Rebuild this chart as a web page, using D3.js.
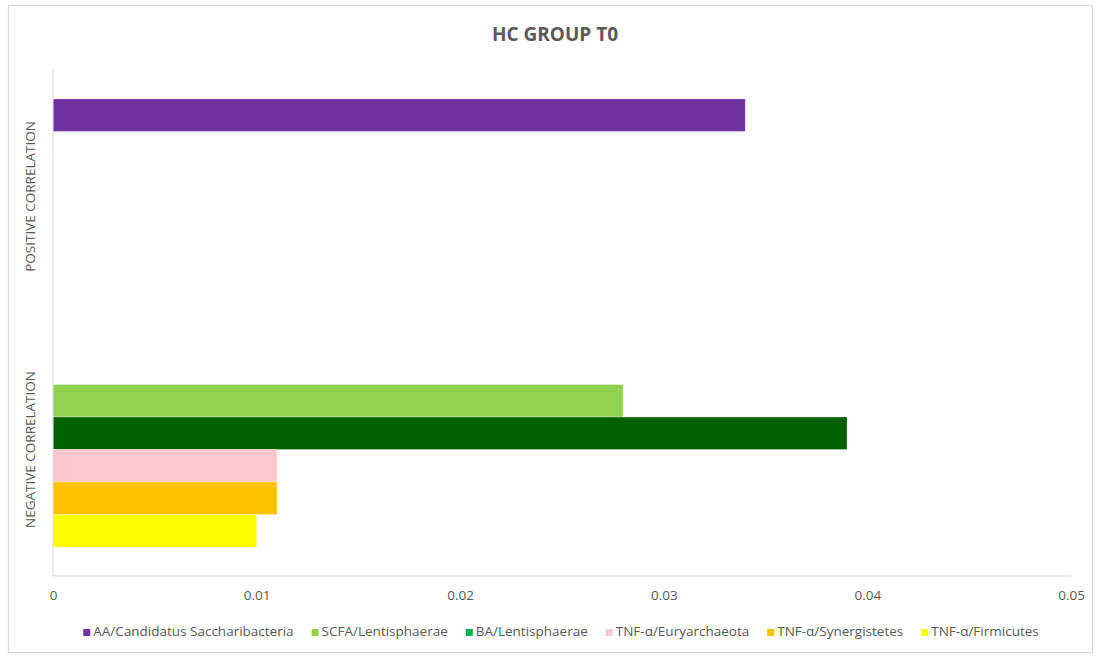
<!DOCTYPE html>
<html><head><meta charset="utf-8">
<script src="https://cdn.jsdelivr.net/npm/d3@7"></script>
<style>body{margin:0;background:#fff;} svg{display:block;font-family:"Open Sans",sans-serif;}</style>
</head><body>
<svg id="chart" width="1098" height="657"></svg>
<script>
const title = "HC GROUP T0";
const categories = ["POSITIVE CORRELATION", "NEGATIVE CORRELATION"];
const seriesNames = ["AA/Candidatus Saccharibacteria", "SCFA/Lentisphaerae", "BA/Lentisphaerae", "TNF-α/Euryarchaeota", "TNF-α/Synergistetes", "TNF-α/Firmicutes"];
// values per series: [positive, negative]; null = no bar
const AA = [0.034, null];
const SCFA = [null, 0.028];
const BA = [null, 0.039];
const TNFEury = [null, 0.011];
const TNFSyn = [null, 0.011];
const TNFFirm = [null, 0.010];
const seriesValues = [AA, SCFA, BA, TNFEury, TNFSyn, TNFFirm];
const barColors = ["#7030A0", "#92D050", "#006100", "#FFC7CE", "#FFC000", "#FFFF00"];
const legendColors = ["#7030A0", "#92D050", "#00B050", "#FFC7CE", "#FFC000", "#FFFF00"];
const xTicks = [0, 0.01, 0.02, 0.03, 0.04, 0.05];

const svg = d3.select("#chart");
const m = {left: 53, right: 1071, top: 70, bottom: 576};

svg.append("rect").attr("x", 8.5).attr("y", 5.5).attr("width", 1084).attr("height", 647)
  .attr("fill", "#fff").attr("stroke", "#d9d9d9").attr("stroke-width", 1.2);

svg.append("text").attr("x", 555).attr("y", 41).attr("text-anchor", "middle")
  .attr("font-size", 19).attr("font-weight", "bold").attr("fill", "#595959").text(title);

const x = d3.scaleLinear().domain([0, 0.05]).range([m.left, m.right]);
const y0 = d3.scaleBand().domain(categories).range([m.top, m.bottom]).paddingInner(0).paddingOuter(0);
const y1 = d3.scaleBand().domain(d3.range(seriesNames.length)).range([0, y0.bandwidth()]).paddingInner(0).paddingOuter(0.89);

// bars
seriesValues.forEach((vals, si) => {
  svg.append("g").selectAll("rect").data(categories.map((c, ci) => ({c, v: vals[ci]})).filter(d => d.v != null))
    .join("rect")
    .attr("x", x(0))
    .attr("y", d => y0(d.c) + y1(si))
    .attr("width", d => x(d.v) - x(0))
    .attr("height", y1.bandwidth())
    .attr("fill", barColors[si])
    .attr("stroke", "#ffffff").attr("stroke-opacity", 0.5).attr("stroke-width", 0.6);
});

// axis lines
svg.append("line").attr("x1", m.left).attr("x2", m.left).attr("y1", m.top).attr("y2", m.bottom)
  .attr("stroke", "#d9d9d9").attr("stroke-width", 1);
svg.append("line").attr("x1", m.left).attr("x2", m.right).attr("y1", m.bottom).attr("y2", m.bottom)
  .attr("stroke", "#d9d9d9").attr("stroke-width", 1);

// x axis
const xAxis = d3.axisBottom(x).tickValues(xTicks).tickSize(0).tickPadding(14)
  .tickFormat(d => d === 0 ? "0" : d3.format(".2f")(d));
const gx = svg.append("g").attr("transform", `translate(0,${m.bottom})`).call(xAxis);
gx.select(".domain").remove();
gx.selectAll("text").attr("font-size", 13.5).attr("fill", "#595959").attr("font-family", "Open Sans, sans-serif");

// y category labels
const yAxis = d3.axisLeft(y0).tickSize(0).tickPadding(0);
const gy = svg.append("g").attr("transform", `translate(${m.left},0)`).call(yAxis);
gy.select(".domain").remove();
gy.selectAll(".tick text")
  .attr("transform", "translate(-23,0) rotate(-90)")
  .attr("x", 0).attr("dy", "0.35em").attr("text-anchor", "middle")
  .attr("font-size", 13.5).attr("fill", "#595959").attr("font-family", "Open Sans, sans-serif");

// legend
const lg = svg.append("g");
const items = lg.selectAll("g").data(seriesNames).join("g");
items.append("rect").attr("width", 7).attr("height", 7).attr("y", -7).attr("fill", (d, i) => legendColors[i]);
items.append("text").attr("x", 10).attr("y", 0).attr("font-size", 13.5).attr("fill", "#595959").text(d => d);
let cx = 0;
const gap = 18;
items.each(function() {
  const g = d3.select(this);
  g.attr("transform", `translate(${cx},0)`);
  cx += 10 + g.select("text").node().getComputedTextLength() + gap;
});
const total = cx - gap;
lg.attr("transform", `translate(${561 - total / 2},636)`);
</script>
</body></html>
